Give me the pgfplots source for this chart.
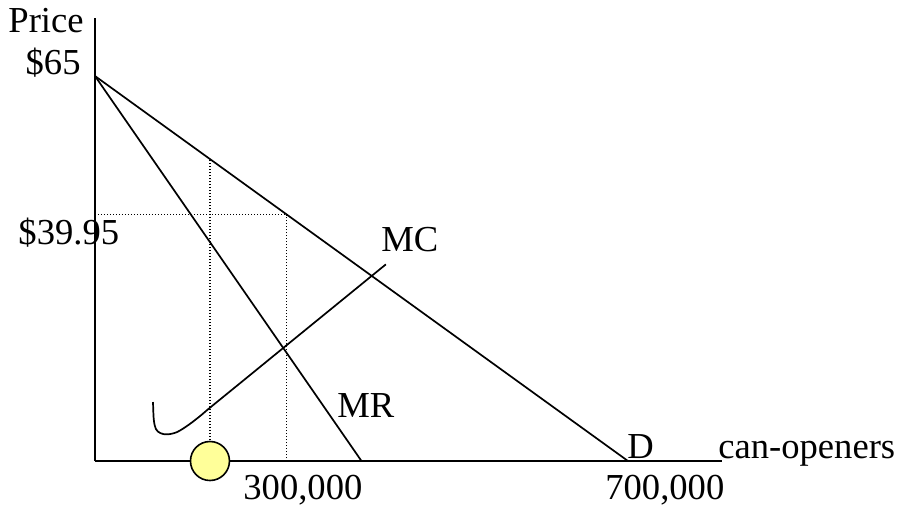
\documentclass[border=0pt]{standalone}
\usepackage{fontspec}
\setmainfont{Liberation Serif}
\usepackage{pgfplots}
\pgfplotsset{compat=1.18}
\definecolor{paleyellow}{RGB}{255,255,153}
\begin{document}
\begin{tikzpicture}[font=\fontsize{18.3}{22}\selectfont]
\path[draw=none] (-47.5pt,-24pt) rectangle (401.5pt,230.5pt);
\begin{axis}[
  scale only axis,
  width=313.5pt, height=221.5pt,
  xmin=0, xmax=823.5, ymin=0, ymax=74.8,
  axis lines=left,
  axis line style={-, line width=1pt},
  xtick=\empty, ytick=\empty,
  clip=false,
]
% dotted guides
\addplot[black, dash pattern=on 0.6pt off 0.9pt, line width=0.6pt] coordinates {(0,41.6) (252,41.6)};
\addplot[black, dash pattern=on 0.6pt off 0.9pt, line width=0.6pt] coordinates {(252,0) (252,41.6)};
\addplot[black, dash pattern=on 0.6pt off 0.9pt, line width=0.6pt] coordinates {(151,0) (151,51.0)};
% demand
\addplot[black, line width=0.85pt] coordinates {(0,65) (700,0)};
% MR
\addplot[black, line width=0.85pt] coordinates {(0,65) (350,0)};
% MC
\addplot[black, line width=0.85pt, smooth, tension=0.55] coordinates {
 (76.2,9.96) (77.2,7.0) (80,5.4) (86,4.7) (95,4.5) (108,4.9) (124,6.2) (140,7.8) (151,9.0)
 (200,14.13) (247,19.06) (300,24.61) (382,33.2)};
% equilibrium marker
\addplot[only marks, mark=*, mark size=9.75pt, mark options={fill=paleyellow, draw=black, line width=0.8pt}] coordinates {(151,0)};
% labels
\node[anchor=base east, inner sep=0pt] at (axis cs:-14.4,72.4) {Price};
\node[anchor=base east, inner sep=0pt] at (axis cs:-18.4,65.2) {\$65};
\node[anchor=base west, inner sep=0pt] at (axis cs:-101,36.5) {\$39.95};
\node[anchor=base west, inner sep=0pt] at (axis cs:375.6,35.3) {MC};
\node[anchor=base west, inner sep=0pt] at (axis cs:317.8,7.43) {MR};
\node[anchor=base west, inner sep=0pt] at (axis cs:698.7,0.34) {D};
\node[anchor=base west, inner sep=0pt] at (axis cs:818.2,0.34) {can-openers};
\node[anchor=base west, inner sep=0pt] at (axis cs:194.4,-6.58) {300,000};
\node[anchor=base west, inner sep=0pt] at (axis cs:669.8,-6.58) {700,000};
\end{axis}
\end{tikzpicture}
\end{document}
